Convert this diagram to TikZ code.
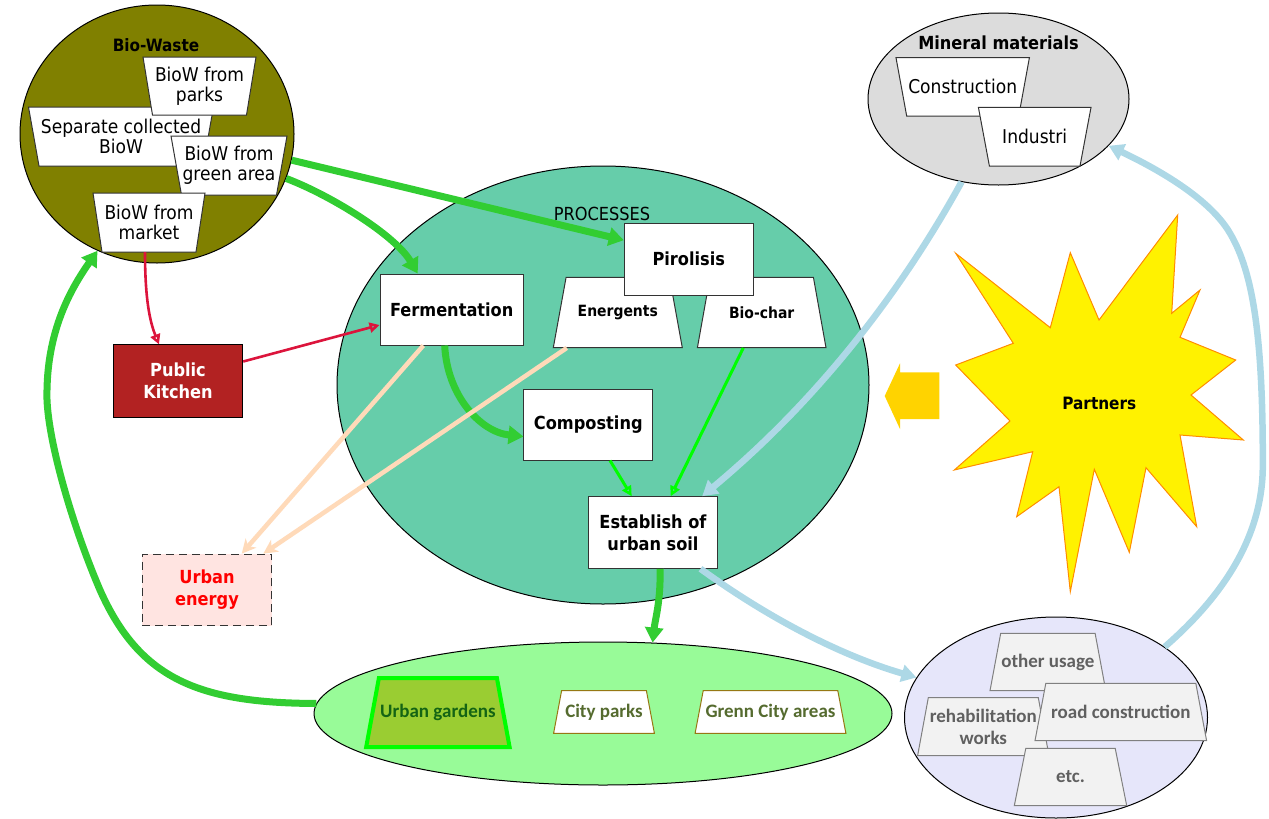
\documentclass[tikz,border=0pt]{standalone}
\usepackage{fontspec}
\usetikzlibrary{arrows.meta,calc,shapes.geometric}
\newfontfamily\tahfont{DejaVu Sans Condensed}
\newfontfamily\calfont{Carlito}
\definecolor{biowaste}{RGB}{128,128,0}
\definecolor{procfill}{RGB}{102,205,170}
\definecolor{minfill}{RGB}{220,220,220}
\definecolor{greenfill}{RGB}{152,251,152}
\definecolor{lavfill}{RGB}{230,230,250}
\definecolor{kitchenc}{RGB}{178,34,34}
\definecolor{energyfill}{RGB}{255,228,225}
\definecolor{garrowc}{RGB}{50,205,50}
\definecolor{barrowc}{RGB}{173,216,230}
\definecolor{peachc}{RGB}{255,218,185}
\definecolor{crimsonc}{RGB}{220,20,60}
\definecolor{limec}{RGB}{0,255,0}
\definecolor{ugfill}{RGB}{154,205,50}
\definecolor{ugtext}{RGB}{20,100,20}
\definecolor{olivetext}{RGB}{85,107,47}
\definecolor{parkborder}{RGB}{150,120,20}
\definecolor{grayboxc}{RGB}{242,242,242}
\definecolor{grayborder}{RGB}{128,128,128}
\definecolor{graytext}{RGB}{96,96,96}
\definecolor{goldc}{RGB}{255,211,0}
\definecolor{starorange}{RGB}{255,140,0}
\newcommand\trapbox[9]{%
  \draw[#1] (#4-#6,#5-#8) -- (#4+#6,#5-#8) -- (#4+#7,#5+#8) -- (#4-#7,#5+#8) -- cycle;
  \node[#2, inner sep=0pt, minimum width={2*max(#6,#7)}, minimum height={2*#8}] (#3) at (#4,#5) {#9};
}
\begin{document}
\begin{tikzpicture}[x=1pt,y=-1pt,
  ell/.style={ellipse, draw=black, line width=1pt, inner sep=0pt},
  tb/.style={draw=black!80, line width=1pt, fill=white},
  tt/.style={font=\tahfont\fontsize{19}{20}\selectfont, align=center},
  bt/.style={font=\tahfont\bfseries\fontsize{18}{22}\selectfont, align=center},
  st/.style={font=\tahfont\bfseries\fontsize{15.5}{18}\selectfont, align=center},
  cb/.style={font=\calfont\bfseries\fontsize{19}{22}\selectfont, align=center},
  rectbox/.style={rectangle, draw=black!80, line width=1pt, fill=white, inner sep=0pt, bt},
  ugbox/.style={draw=limec, line width=4pt, fill=ugfill},
  parkbox/.style={draw=parkborder, line width=1pt, fill=white},
  graybx/.style={draw=grayborder, line width=1pt, fill=grayboxc},
  garrow/.style={draw=garrowc, line width=7pt, -{Triangle[length=15pt,width=18pt]}},
  barrow/.style={draw=barrowc, line width=6.5pt, -{Triangle[length=15pt,width=17pt]}},
  parrow/.style={draw=peachc, line width=4.5pt, -{Stealth[length=14pt,width=14pt,inset=4pt]}},
  crarrow/.style={draw=crimsonc, line width=2.6pt, -{Triangle[open,length=10pt,width=10pt]}},
  larrow/.style={draw=limec, line width=3pt, -{Triangle[open,length=10pt,width=10pt]}}]
\path[use as bounding box] (0,0) rectangle (1269,819);

% ellipses
\node[ell, fill=biowaste, minimum width=274pt, minimum height=258pt] (bio) at (157,134) {};
\node[ell, fill=procfill, minimum width=532pt, minimum height=438pt] (proc) at (603,385) {};
\node[ell, fill=minfill, minimum width=261pt, minimum height=172pt] (mineral) at (998.5,99) {};
\node[ell, fill=greenfill, minimum width=578pt, minimum height=143pt] (green) at (603,713.5) {};
\node[ell, fill=lavfill, minimum width=303pt, minimum height=201pt] (lav) at (1056,717.5) {};

% bio-waste boxes
\trapbox{tb}{tt}{sep}{121}{136.5}{92.5}{82}{29.5}{Separate collected\\BioW}
\trapbox{tb}{tt}{parks}{199.5}{86}{56.5}{47}{29}{BioW from\\parks}
\trapbox{tb}{tt}{greenarea}{229}{165.5}{58}{47.5}{29.5}{BioW from\\green area}
\trapbox{tb}{tt}{market}{149}{222.5}{56}{47}{29.5}{BioW from\\market}

% mineral boxes
\trapbox{tb}{tt}{constr}{962.7}{86.9}{66.7}{56}{29.2}{Construction}
\trapbox{tb}{tt}{indus}{1034.7}{136.7}{56.3}{45.3}{29.3}{Industri}

% processes
\trapbox{tb}{st}{energ}{617.8}{312.5}{51.7}{64.5}{35.2}{Energents}
\trapbox{tb}{st}{biochar}{761.7}{312.5}{51.7}{64.3}{35.2}{Bio-char}
\node[rectbox, minimum width=129pt, minimum height=71.7pt] (pirol) at (688.8,259.2) {Pirolisis};
\node[rectbox, minimum width=143.3pt, minimum height=71pt] (ferm) at (451.7,309.5) {Fermentation};
\node[rectbox, minimum width=128.7pt, minimum height=71pt] (comp) at (588.3,424.5) {Composting};
\node[rectbox, minimum width=129.4pt, minimum height=71.6pt] (est) at (653,532.5) {Establish of\\urban soil};
\node[rectbox, fill=kitchenc, text=white, draw=black, minimum width=129.4pt, minimum height=72.3pt] (kitchen) at (178,381) {Public\\Kitchen};
\node[rectbox, fill=energyfill, text=red, dash pattern=on 8pt off 5pt, minimum width=129.4pt, minimum height=71.7pt] (energy) at (207,590) {Urban\\energy};

% green ellipse boxes
\trapbox{ugbox}{cb, text=ugtext}{ugard}{437.9}{712.5}{59}{71.7}{34.5}{Urban gardens}
\trapbox{parkbox}{cb, text=olivetext}{cpark}{604}{712}{42.4}{50.4}{21.3}{City parks}
\trapbox{parkbox}{cb, text=olivetext}{gca}{770.5}{712}{67.3}{75.4}{21.3}{Grenn City areas}

% lavender boxes
\trapbox{graybx}{cb, text=graytext}{other}{1047.9}{662}{47.2}{57.9}{28.7}{other usage}
\trapbox{graybx}{cb, text=graytext}{rehab}{983.3}{726.7}{55}{65.7}{29}{rehabilitation\\works}
\trapbox{graybx}{cb, text=graytext}{road}{1120.8}{712}{75}{85.8}{28.7}{road construction}
\trapbox{graybx}{cb, text=graytext}{etc}{1070.5}{777}{44.7}{56.2}{28.7}{etc.}

% partners star
\draw[fill=yellow, draw=starorange, line width=1pt] (955.7,253.3) -- (1050.3,327.7) -- (1070.3,252.7) -- (1099,320) -- (1177.7,215) -- (1171.7,313.3) -- (1200,290) -- (1180,337.3) -- (1235.7,360) -- (1191,395) -- (1243.3,440) -- (1180,435) -- (1196.7,526.7) -- (1146,467.7) -- (1129.3,552.3) -- (1094.3,469.3) -- (1070.3,591.7) -- (1059,486.7) -- (1016.7,516.7) -- (1032.7,451.7) -- (954.3,470) -- (1010,421) -- (955.7,365) -- (1013.3,343.3) -- cycle;
\node[font=\tahfont\bfseries\fontsize{17}{20}\selectfont] (partners) at (1099.3,403.3) {Partners};
\fill[goldc] (939.3,372.3) -- (900,372.3) -- (900,363.3) -- (884.7,396) -- (900,429) -- (900,419) -- (939.3,419) -- cycle;

% connectors
\draw[garrow] (bio.-11) -- ($(pirol.west)+(0,-19)$);
\draw[garrow] (bio.-19) .. controls (330,195) and (395,235) .. ($(ferm.north)+(-34,0)$);
\draw[garrow] ($(ferm.south)+(-7,0)$) .. controls (447,395) and (480,432) .. ($(comp.west)+(0,12)$);
\draw[garrow] ($(est.south)+(7,0)$) .. controls (661,600) and (655,620) .. (green.55);
\draw[garrow] (green.178) .. controls (200,703) and (140,680) .. (100,590)
  .. controls (70,520) and (45,430) .. (47,390)
  .. controls (48,330) and (70,290) .. (bio.243);
\draw[crarrow] ($(market.south)+(-4,0)$) .. controls (145,300) and (150,322) .. ($(kitchen.north)+(-19,0)$);
\draw[crarrow] ($(kitchen.east)+(0,-19.5)$) -- ($(ferm.west)+(0,15.5)$);
\draw[parrow] ($(ferm.south)+(-28.4,0)$) -- ($(energy.north)+(34.7,0)$);
\draw[parrow] ($(energ.south)+(-51,0)$) -- ($(energy.north)+(56.3,0)$);
\draw[larrow] ($(comp.south)+(21.7,0)$) -- ($(est.north)+(-21.3,0)$);
\draw[larrow] ($(biochar.south)+(-18.4,0)$) -- ($(est.north)+(17.7,0)$);
\draw[barrow] (mineral.246) .. controls (894.7,303.7) and (808,408.3) .. ($(est.north east)+(-16,0)$);
\draw[barrow] ($(est.south east)+(-17.7,0)$) .. controls (767,617) and (839.7,655.3) .. (lav.164);
\draw[barrow] (lav.33) .. controls (1230,590) and (1263,530) .. (1262.8,464.8)
  .. controls (1263,330) and (1252,268) .. (1228,230)
  .. controls (1210,202) and (1170,175) .. (mineral.-23);

% titles
\node[font=\tahfont\bfseries\fontsize{17}{20}\selectfont] (biot) at (156,45) {Bio-Waste};
\node[font=\tahfont\fontsize{18}{20}\selectfont] (proct) at (602,214) {PROCESSES};
\node[font=\tahfont\bfseries\fontsize{18}{20}\selectfont] (mint) at (998.5,43) {Mineral materials};
\end{tikzpicture}
\end{document}
